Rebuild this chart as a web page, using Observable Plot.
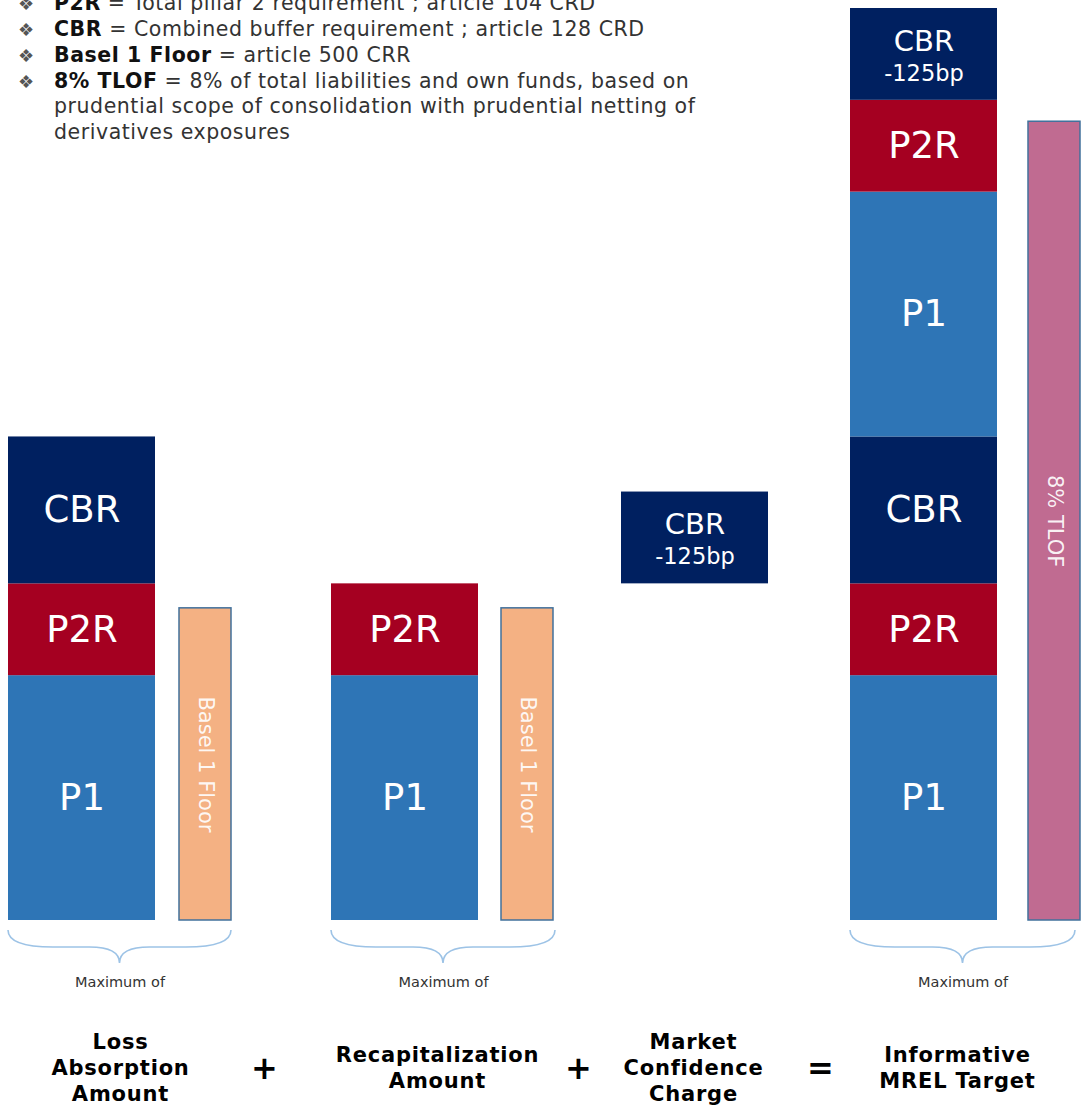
<!DOCTYPE html>
<html>
<head>
<meta charset="utf-8">
<script src="https://cdn.jsdelivr.net/npm/d3@7"></script>
<script src="https://cdn.jsdelivr.net/npm/@observablehq/plot@0.6"></script>
<style>
  html, body { margin: 0; padding: 0; background: #fff; }
  #wrap { position: relative; width: 1081px; height: 1106px; overflow: hidden; font-family: "DejaVu Sans", Verdana, sans-serif; }
  #legend { position: absolute; left: 0; top: -8.8px; font-size: 20.5px; letter-spacing: 0.55px; line-height: 25.8px; color: #333; z-index: 2; }
  #legend .item { position: relative; padding-left: 54px; width: 650px; }
  #legend .bullet { position: absolute; left: 18px; top: 0; font-size: 18px; color: #555; letter-spacing: 0; }
  #legend b { color: #111; }
  #chart { position: absolute; left: 0; top: 0; }
  #chart g[font-weight="bold"] text { letter-spacing: 0.8px; }
</style>
</head>
<body>
<div id="wrap">
  <div id="legend"></div>
  <div id="chart"></div>
</div>
<script>
// ---------- data ----------
const columns = ["Loss Absorption Amount", "Recapitalization Amount", "Market Confidence Charge", "Informative MREL Target"];
const columnLabels = ["Loss\nAbsorption\nAmount", "Recapitalization\nAmount", "Market\nConfidence\nCharge", "Informative\nMREL Target"];
const operators = ["+", "+", "="];

const lossLabels = ["P1", "P2R", "CBR"];
const lossValues = [8, 3, 4.8];
const recapLabels = ["P1", "P2R"];
const recapValues = [8, 3];
const mccLabels = ["CBR -125bp"];
const mccValues = [3];
const mrelLabels = ["P1", "P2R", "CBR", "P1", "P2R", "CBR -125bp"];
const mrelValues = [8, 3, 4.8, 8, 3, 3];

const floorLabels = ["Basel 1 Floor", "Basel 1 Floor", null, "8% TLOF"];
const floorValues = [10.2, 10.2, null, 26.1];
const braceText = ["Maximum of", "Maximum of", null, "Maximum of"];

const legendTerms = ["P2R", "CBR", "Basel 1 Floor", "8% TLOF"];
const legendDefs = [
  "Total pillar 2 requirement ; article 104 CRD",
  "Combined buffer requirement ; article 128 CRD",
  "article 500 CRR",
  "8% of total liabilities and own funds, based on prudential scope of consolidation with prudential netting of derivatives exposures"
];

// ---------- layout & styles ----------
const layout = {
  mainLeft: [8, 331, 621, 850], mainWidth: 147,
  sideLeft: [179, 501, null, 1028], sideWidth: 52,
  labelX: [120, 437, 693, 957],
  operatorX: [264, 578, 820],
  braceRight: [231, 555, null, 1075]
};
const colors = { "P1": "#2E75B6", "P2R": "#A50021", "CBR": "#002060", "CBR -125bp": "#002060" };
const floorColors = ["#F4B183", "#F4B183", null, "#C06B91"];

// ---------- legend ----------
const legend = document.getElementById("legend");
legendTerms.forEach((t, i) => {
  const d = document.createElement("div");
  d.className = "item";
  d.innerHTML = `<span class="bullet">❖</span><b>${t}</b> = ${legendDefs[i]}`;
  legend.appendChild(d);
});

// ---------- build rows ----------
const stacks = [
  {labels: lossLabels, values: lossValues, base: 0},
  {labels: recapLabels, values: recapValues, base: 0},
  {labels: mccLabels, values: mccValues, base: d3.sum(recapValues)},
  {labels: mrelLabels, values: mrelValues, base: 0}
];
const segs = [];
stacks.forEach((s, c) => {
  let y = s.base;
  s.labels.forEach((lab, k) => {
    const v = s.values[k];
    segs.push({
      col: columns[c], label: lab,
      x1: layout.mainLeft[c], x2: layout.mainLeft[c] + layout.mainWidth,
      y1: y, y2: y + v, fill: colors[lab]
    });
    y += v;
  });
});
const floors = [];
floorValues.forEach((v, c) => {
  if (v == null) return;
  floors.push({
    col: columns[c], label: floorLabels[c],
    x1: layout.sideLeft[c], x2: layout.sideLeft[c] + layout.sideWidth,
    y1: 0, y2: v, fill: floorColors[c]
  });
});
const simpleSegs = segs.filter(d => d.label !== "CBR -125bp");
const reducedSegs = segs.filter(d => d.label === "CBR -125bp");
const braces = [];
braceText.forEach((t, c) => {
  if (t == null) return;
  braces.push({a: layout.mainLeft[c], b: layout.braceRight[c], text: t});
});
const labelRows = columns.map((c, i) => ({x: layout.labelX[i], text: columnLabels[i]}));
const opRows = operators.map((o, i) => ({x: layout.operatorX[i], text: o}));

const yMax = d3.sum(mrelValues);
const font = "DejaVu Sans";

function braceMark(index, scales, values, dimensions) {
  const g = d3.create("svg:g").attr("fill", "none").attr("stroke", "#9DC3E6").attr("stroke-width", 1.6);
  const top = dimensions.height - dimensions.marginBottom + 10;
  const mid = top + 17, tip = top + 33;
  for (const br of braces) {
    const a = scales.x(br.a), b = scales.x(br.b), c = (a + b) / 2;
    const r = 45, r2 = 30;
    const p = `M${a},${top} Q${a},${mid} ${a + r},${mid} L${c - r2},${mid} Q${c},${mid} ${c},${tip} Q${c},${mid} ${c + r2},${mid} L${b - r},${mid} Q${b},${mid} ${b},${top}`;
    g.append("path").attr("d", p);
  }
  return g.node();
}

const plot = Plot.plot({
  width: 1081, height: 1106,
  marginTop: 8, marginBottom: 186, marginLeft: 0, marginRight: 0,
  x: {domain: [0, 1081], range: [0, 1081], axis: null},
  y: {domain: [0, yMax], axis: null},
  color: {type: "identity"},
  style: {fontFamily: font, background: "transparent", overflow: "visible"},
  marks: [
    Plot.rect(segs, {x1: "x1", x2: "x2", y1: "y1", y2: "y2", fill: "fill"}),
    Plot.rect(floors, {x1: "x1", x2: "x2", y1: "y1", y2: "y2", fill: "fill", stroke: "#41719C", strokeWidth: 1.5}),
    Plot.text(simpleSegs, {x: d => (d.x1 + d.x2) / 2, y: d => (d.y1 + d.y2) / 2, text: "label", fill: "white", fontSize: 37, fontFamily: font}),
    Plot.text(reducedSegs, {x: d => (d.x1 + d.x2) / 2, y: d => (d.y1 + d.y2) / 2, text: d => d.label.split(" ")[0], fill: "white", fontSize: 29, dy: -13, fontFamily: font}),
    Plot.text(reducedSegs, {x: d => (d.x1 + d.x2) / 2, y: d => (d.y1 + d.y2) / 2, text: d => d.label.split(" ")[1], fill: "white", fontSize: 22.5, dy: 19, fontFamily: font}),
    Plot.text(floors, {x: d => (d.x1 + d.x2) / 2, y: d => (d.y1 + d.y2) / 2, text: "label", rotate: 90, fill: "white", fillOpacity: 0.92, fontSize: 21, fontFamily: font}),
    braceMark,
    Plot.text(braces, {x: d => (d.a + d.b) / 2, frameAnchor: "bottom", lineAnchor: "middle", dy: 62, text: "text", fill: "#333", fontSize: 14.5, fontFamily: font}),
    Plot.text(labelRows, {x: "x", frameAnchor: "bottom", lineAnchor: "middle", dy: 146, text: "text", fill: "#000", fontSize: 21, fontWeight: "bold", lineHeight: 1.24, fontFamily: font}),
    Plot.text(opRows, {x: "x", frameAnchor: "bottom", lineAnchor: "middle", dy: 148, text: "text", fill: "#000", fontSize: 32, fontWeight: 800, fontFamily: font})
  ]
});
document.getElementById("chart").appendChild(plot);
</script>
</body>
</html>
